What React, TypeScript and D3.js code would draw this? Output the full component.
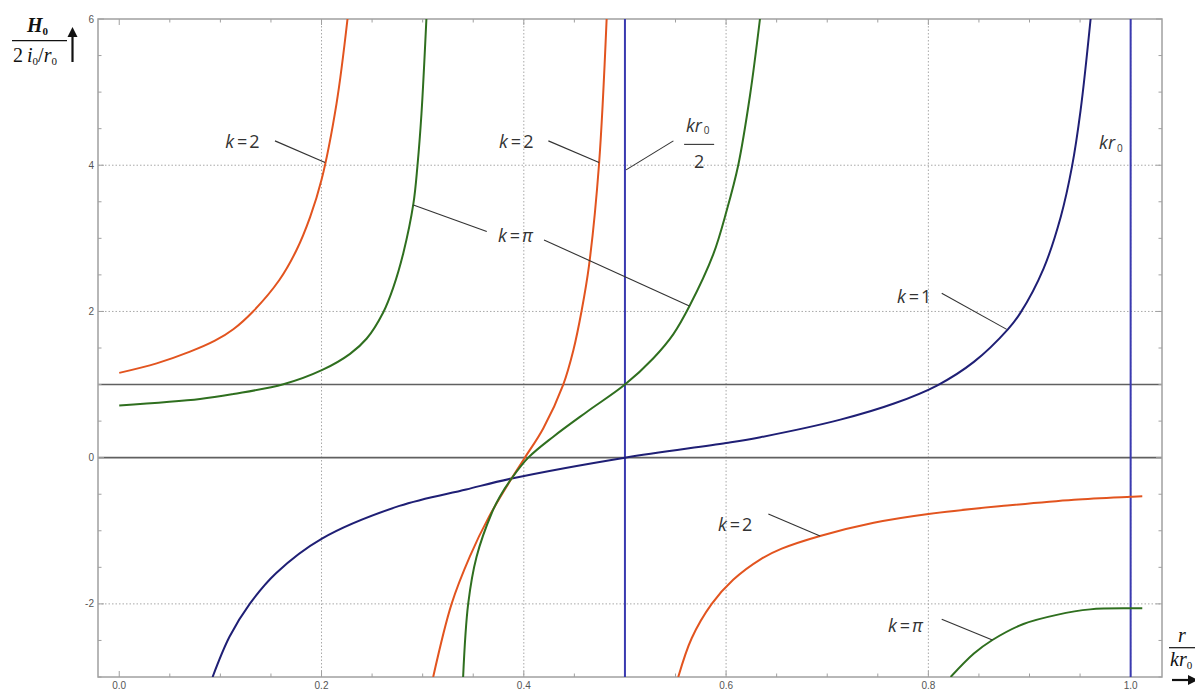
import React from 'react';
import * as d3 from 'd3';

type Pt = [number, number];

// ---- tick values / labels ----
const xTickValues = [0, 0.2, 0.4, 0.6, 0.8, 1.0];
const xTickLabels = ['0.0', '0.2', '0.4', '0.6', '0.8', '1.0'];
const yTickValues = [-2, 0, 2, 4, 6];
const yTickLabels = ['-2', '0', '2', '4', '6'];
const gridXValues = [0.2, 0.4, 0.6, 0.8, 1.0];
const gridYValues = [-2, 2, 4];
const refLinesY = [0, 1];
const refLinesX = [0.5, 1.0];

// ---- series ----
const k1Branch: Pt[] = [
  [0.0923, -3], [0.109, -2.45], [0.129, -2.0], [0.155, -1.58], [0.2, -1.11],
  [0.277, -0.66], [0.343, -0.435], [0.388, -0.285], [0.5, 0],
  [0.6, 0.2], [0.634, 0.28], [0.713, 0.52], [0.766, 0.74], [0.809, 0.99],
  [0.845, 1.31], [0.8786, 1.755], [0.891, 1.98], [0.914, 2.59], [0.931, 3.3],
  [0.942, 3.98], [0.9505, 4.75], [0.9604, 6],
];

const k2Branch1: Pt[] = [
  [0, 1.16], [0.037, 1.29], [0.07, 1.45], [0.0946, 1.6], [0.1128, 1.757],
  [0.1323, 2.0], [0.1583, 2.43], [0.1753, 2.84], [0.1887, 3.29], [0.2, 3.8],
  [0.2148, 4.84], [0.2257, 6],
];
const k2Branch2: Pt[] = [
  [0.3104, -3], [0.3286, -2], [0.3467, -1.35], [0.3655, -0.81], [0.3879, -0.285],
  [0.401, 0], [0.4192, 0.4], [0.439, 1.0], [0.449, 1.47], [0.4573, 2.02],
  [0.4644, 2.62], [0.4743, 4], [0.4819, 6],
];
const k2Branch3: Pt[] = [
  [0.5527, -3], [0.566, -2.47], [0.5858, -2.0], [0.607, -1.67], [0.634, -1.39],
  [0.655, -1.245], [0.6929, -1.071], [0.746, -0.89], [0.8, -0.77], [0.878, -0.655],
  [0.944, -0.575], [1.0, -0.535], [1.0115, -0.528],
];

const kPiBranch1: Pt[] = [
  [0, 0.715], [0.0799, 0.803], [0.1128, 0.871], [0.1623, 1.004], [0.2008, 1.2],
  [0.2282, 1.42], [0.2447, 1.63], [0.2611, 1.99], [0.271, 2.33], [0.2809, 2.8],
  [0.2908, 3.47], [0.2949, 4.0], [0.2988, 4.7], [0.3037, 6],
];
const kPiBranch2: Pt[] = [
  [0.34, -3], [0.345, -2], [0.3533, -1.355], [0.3685, -0.75], [0.3764, -0.53],
  [0.3879, -0.285], [0.4044, 0], [0.4292, 0.287], [0.4622, 0.625], [0.5, 1.0],
  [0.5281, 1.36], [0.5479, 1.69], [0.5637, 2.07], [0.5873, 2.78], [0.6006, 3.38],
  [0.612, 4.0], [0.6236, 4.95], [0.6335, 6],
];
const kPiBranch3: Pt[] = [
  [0.822, -3], [0.845, -2.68], [0.8633, -2.494], [0.894, -2.275], [0.927, -2.15],
  [0.96, -2.075], [1.0, -2.06], [1.0115, -2.06],
];

// ---- annotations (data coordinates) ----
type Ann = { k: string; at: Pt; from: Pt; to: Pt };
const annotations: Ann[] = [
  { k: '2', at: [0.1048, 4.231], from: [0.154, 4.333], to: [0.2035, 4.036] },
  { k: '2', at: [0.3755, 4.231], from: [0.4243, 4.333], to: [0.4744, 4.036] },
  { k: 'π', at: [0.3745, 2.946], from: [0.42, 2.978], to: [0.5637, 2.075] },
  { k: '1', at: [0.769, 2.116], from: [0.8132, 2.249], to: [0.8775, 1.755] },
  { k: '2', at: [0.5919, -0.998], from: [0.6418, -0.77], to: [0.6929, -1.071] },
  { k: 'π', at: [0.7601, -2.38], from: [0.8132, -2.211], to: [0.8633, -2.494] },
];
const extraLeaders: [Pt, Pt][] = [
  [[0.2908, 3.457], [0.3634, 3.092]],
  [[0.5479, 4.333], [0.5011, 3.936]],
];

const W = 1195;
const H = 691;

const COLORS = {
  k1: '#1f1f75',
  k2: '#e2541f',
  kPi: '#2f6f1f',
  vline: '#3a3ab0',
  ref: '#606060',
  grid: '#a8a8a8',
  frame: '#a0a0a0',
  text: '#333333',
  tick: '#555555',
};

export default function App() {
  const x = d3.scaleLinear().domain([-0.021, 1.031]).range([98, 1162]);
  const y = d3.scaleLinear().domain([-3, 6]).range([677, 19]);
  const [x0, x1] = x.range();
  const [y0, y1] = y.range();

  const line = d3
    .line<Pt>()
    .x((d) => x(d[0]))
    .y((d) => y(d[1]))
    .curve(d3.curveCatmullRom.alpha(0.5));

  const minorX = d3.range(0, 1.0001, 0.05);
  const minorY = d3.range(-3, 6.0001, 0.5);
  const isMajorX = (v: number) => Math.abs(v * 5 - Math.round(v * 5)) < 1e-6;
  const isMajorY = (v: number) => Math.abs(v / 2 - Math.round(v / 2)) < 1e-6;

  const series: { pts: Pt[]; color: string }[] = [
    { pts: k1Branch, color: COLORS.k1 },
    { pts: k2Branch1, color: COLORS.k2 },
    { pts: k2Branch2, color: COLORS.k2 },
    { pts: k2Branch3, color: COLORS.k2 },
    { pts: kPiBranch1, color: COLORS.kPi },
    { pts: kPiBranch2, color: COLORS.kPi },
    { pts: kPiBranch3, color: COLORS.kPi },
  ];

  const labelFont = '"Open Sans", "DejaVu Sans", sans-serif';
  const serif = '"Liberation Serif", "DejaVu Serif", serif';

  return (
    <svg
      width={W}
      height={H}
      viewBox={`0 0 ${W} ${H}`}
      style={{ position: 'absolute', left: 0, top: 0, background: '#fff' }}
    >
      <defs>
        <clipPath id="plotClip">
          <rect x={x0} y={y1} width={x1 - x0} height={y0 - y1} />
        </clipPath>
      </defs>
      <rect x={0} y={0} width={W} height={H} fill="#fff" />

      {/* grid */}
      <g stroke={COLORS.grid} strokeWidth={1} strokeDasharray="1.5,2">
        {gridXValues.map((v) => (
          <line key={'gx' + v} x1={x(v)} x2={x(v)} y1={y1} y2={y0} />
        ))}
        {gridYValues.map((v) => (
          <line key={'gy' + v} x1={x0} x2={x1} y1={y(v)} y2={y(v)} />
        ))}
      </g>

      {/* reference horizontals */}
      {refLinesY.map((v) => (
        <line key={'ry' + v} x1={x0} x2={x1} y1={y(v)} y2={y(v)} stroke={COLORS.ref} strokeWidth={1.6} />
      ))}

      {/* frame */}
      <rect x={x0} y={y1} width={x1 - x0} height={y0 - y1} fill="none" stroke={COLORS.frame} strokeWidth={1.5} />

      {/* ticks */}
      <g stroke={COLORS.frame} strokeWidth={1}>
        {minorX.map((v) => {
          const len = isMajorX(v) ? 6 : 3.5;
          return (
            <g key={'tx' + v}>
              <line x1={x(v)} x2={x(v)} y1={y0} y2={y0 - len} />
              <line x1={x(v)} x2={x(v)} y1={y1} y2={y1 + len} />
            </g>
          );
        })}
        {minorY.map((v) => {
          const len = isMajorY(v) ? 6 : 3.5;
          return (
            <g key={'ty' + v}>
              <line x1={x0} x2={x0 + len} y1={y(v)} y2={y(v)} />
              <line x1={x1} x2={x1 - len} y1={y(v)} y2={y(v)} />
            </g>
          );
        })}
      </g>

      {/* tick labels */}
      <g fontFamily='"Liberation Sans", Arial, sans-serif' fontSize={10} fill={COLORS.tick}>
        {xTickValues.map((v, i) => (
          <text key={'xl' + v} x={x(v)} y={689} textAnchor="middle">
            {xTickLabels[i]}
          </text>
        ))}
        {yTickValues.map((v, i) => (
          <text key={'yl' + v} x={94} y={y(v)} dy="0.35em" textAnchor="end">
            {yTickLabels[i]}
          </text>
        ))}
      </g>

      {/* curves and vertical marks */}
      <g clipPath="url(#plotClip)">
        {refLinesX.map((v) => (
          <line key={'rx' + v} x1={x(v)} x2={x(v)} y1={y1} y2={y0} stroke={COLORS.vline} strokeWidth={2} />
        ))}
        {series.map((s, i) => (
          <path key={'s' + i} d={line(s.pts) || ''} fill="none" stroke={s.color} strokeWidth={2} />
        ))}
      </g>

      {/* annotations */}
      <g stroke={COLORS.text} strokeWidth={1.1}>
        {annotations.map((a, i) => (
          <line key={'al' + i} x1={x(a.from[0])} y1={y(a.from[1])} x2={x(a.to[0])} y2={y(a.to[1])} />
        ))}
        {extraLeaders.map((l, i) => (
          <line key={'el' + i} x1={x(l[0][0])} y1={y(l[0][1])} x2={x(l[1][0])} y2={y(l[1][1])} />
        ))}
      </g>
      <g fontFamily={labelFont} fontSize={18} fill={COLORS.text}>
        {annotations.map((a, i) => (
          <text key={'at' + i} x={x(a.at[0])} y={y(a.at[1])}>
            <tspan fontStyle="italic">k</tspan>
            <tspan dx={3}>=</tspan>
            <tspan dx={2} fontStyle={a.k === 'π' ? 'italic' : 'normal'}>{a.k}</tspan>
          </text>
        ))}
        {/* kr0 / 2 */}
        <text x={x(0.5603)} y={y(4.46)} fontStyle="italic">
          kr<tspan fontSize={10} fontStyle="normal" dx={2} dy={2}>0</tspan>
        </text>
        <line x1={x(0.5585)} x2={x(0.5882)} y1={y(4.285)} y2={y(4.285)} stroke={COLORS.text} strokeWidth={1.1} />
        <text x={x(0.5734)} y={y(3.96)} textAnchor="middle">2</text>
        {/* kr0 right */}
        <text x={x(0.9688)} y={y(4.22)} fontStyle="italic">
          kr<tspan fontSize={10} fontStyle="normal" dx={2} dy={3}>0</tspan>
        </text>
      </g>

      {/* y-axis title */}
      <g fontFamily={serif} fill="#111">
        <text x={27} y={32} fontSize={20} fontWeight="bold" fontStyle="italic">
          H<tspan fontSize={11} dy={3} fontStyle="normal">0</tspan>
        </text>
        <line x1={12} x2={67} y1={40.7} y2={40.7} stroke="#111" strokeWidth={1.2} />
        <text x={13} y={62} fontSize={20}>
          2<tspan dx={4} fontStyle="italic">i</tspan>
          <tspan fontSize={11} dy={3}>0</tspan>
          <tspan dy={-3}>/</tspan>
          <tspan fontStyle="italic">r</tspan>
          <tspan fontSize={11} dy={3}>0</tspan>
        </text>
        <line x1={72.5} x2={72.5} y1={62} y2={34} stroke="#111" strokeWidth={2.2} />
        <path d="M72.5,27 L67.5,37 L77.5,37 Z" fill="#111" />
      </g>

      {/* x-axis title */}
      <g fontFamily={serif} fill="#111">
        <text x={1182} y={642} fontSize={20} fontStyle="italic" textAnchor="middle">r</text>
        <line x1={1169} x2={1200} y1={647.7} y2={647.7} stroke="#111" strokeWidth={1.2} />
        <text x={1170} y={666} fontSize={20} fontStyle="italic">
          kr<tspan fontSize={11} dy={3} fontStyle="normal">0</tspan>
        </text>
        <line x1={1172} x2={1190} y1={680} y2={680} stroke="#111" strokeWidth={2.2} />
        <path d="M1198,680 L1188,675 L1188,685 Z" fill="#111" />
      </g>
    </svg>
  );
}
